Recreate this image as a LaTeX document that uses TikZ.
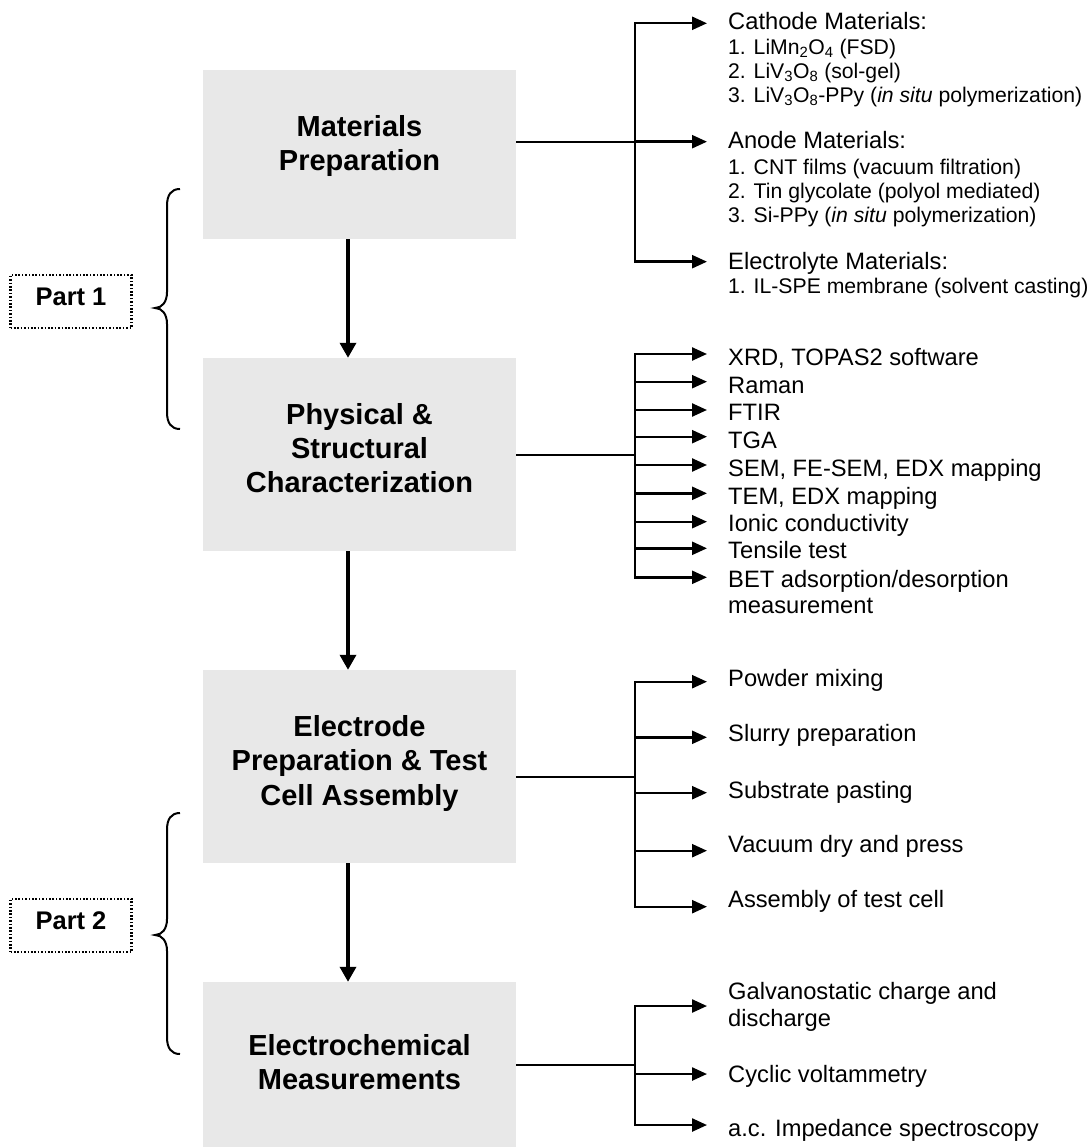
\documentclass[tikz,border=0pt]{standalone}
\usepackage{fontspec}
\setmainfont{Liberation Sans}
\usetikzlibrary{arrows.meta}
\definecolor{boxgray}{RGB}{232,232,232}
\newcommand\hdrfont{\fontsize{23.7}{27.6}\selectfont}
\newcommand\subfont{\fontsize{21.2}{24.2}\selectfont}
\newcommand\boxfont{\fontsize{29}{34.3}\selectfont\bfseries}
\newcommand\partfont{\fontsize{25.5}{30}\selectfont\bfseries}
\begin{document}
\begin{tikzpicture}[x=1pt,y=-1pt,
 stagebox/.style={rectangle, fill=boxgray, draw=none, minimum width=313pt, inner sep=0pt},
 stagelabel/.style={anchor=base, align=center, font=\boxfont, inner sep=0pt},
 itemlabel/.style={anchor=base west, inner xsep=21pt, inner ysep=0pt, font=\hdrfont},
 contline/.style={anchor=base west, inner sep=0pt, font=\hdrfont},
 sublist/.style={anchor=base west, align=left, inner sep=0pt, font=\subfont},
 conn/.style={line width=2.4pt},
 trunk/.style={line width=2.4pt, line cap=rect},
 branch/.style={line width=2.4pt, -{Triangle[length=15pt,width=13pt]}},
 flow/.style={line width=3.4pt, -{Triangle[length=15pt,width=16pt]}},
 partbox/.style={draw, line width=2.2pt, dash pattern=on 1.6pt off 1.8pt, minimum width=121pt, minimum height=53pt, font=\partfont, text height=0.72em, text depth=0pt, inner sep=0pt},
 bracepath/.style={line width=2pt}
]
\useasboundingbox (0,0) rectangle (1088,1147);

% stage boxes
\node[stagebox, minimum height=169pt] (m1) at (359.5,154.5) {};
\node[stagebox, minimum height=193pt] (m2) at (359.5,454.5) {};
\node[stagebox, minimum height=193pt] (m3) at (359.5,766.5) {};
\node[stagebox, minimum height=165pt] (m4) at (359.5,1064.5) {};

% labels (base anchor = last line)
\node[stagelabel] (l1) at (359.5,171) {Materials\\Preparation};
\node[stagelabel] (l2) at (359.5,492.7) {Physical \&\\Structural\\Characterization};
\node[stagelabel] (l3) at (359.5,805) {Electrode\\Preparation \& Test\\Cell Assembly};
\node[stagelabel] (l4) at (359.5,1089.3) {Electrochemical\\Measurements};

% flow arrows
\draw[flow] ([xshift=-11.5pt]m1.south) -- ([xshift=-11.5pt]m2.north);
\draw[flow] ([xshift=-11.5pt]m2.south) -- ([xshift=-11.5pt]m3.north);
\draw[flow] ([xshift=-11.5pt]m3.south) -- ([xshift=-11.5pt]m4.north);

% ---------- group 1
\coordinate (j1) at (635,142);
\coordinate (a11) at (635,23.3);
\coordinate (a12) at (635,141.7);
\coordinate (a13) at (635,261.7);
\node[itemlabel] (h11) at (707,29.3) {Cathode Materials:};
\node[itemlabel] (h12) at (707,149) {Anode Materials:};
\node[itemlabel] (h13) at (707,269.3) {Electrolyte Materials:};
\node[sublist] (s11) at (728,102.7) {1. LiMn\textsubscript{2}O\textsubscript{4} (FSD)\\2. LiV\textsubscript{3}O\textsubscript{8} (sol-gel)\\3. LiV\textsubscript{3}O\textsubscript{8}-PPy (\textit{in situ} polymerization)};
\node[sublist] (s12) at (728,222.7) {1. CNT films (vacuum filtration)\\2. Tin glycolate (polyol mediated)\\3. Si-PPy (\textit{in situ} polymerization)};
\node[sublist] (s13) at (728,293.3) {1. IL-SPE membrane (solvent casting)};
\draw[conn] (m1.east |- j1) -- (j1);
\draw[trunk] (a11) -- (a13);
\foreach \i in {1,2,3} \draw[branch] (a1\i) -- (a1\i -| h1\i.west);

% ---------- group 2
\coordinate (j2) at (635,455);
\foreach \i/\y in {1/354,2/381.7,3/410,4/436.7,5/465,6/493.3,7/521.7,8/548.3,9/577.3}
  \coordinate (a2\i) at (635,\y);
\node[itemlabel] (h21) at (707,365.7) {XRD, TOPAS2 software};
\node[itemlabel] (h22) at (707,393.3) {Raman};
\node[itemlabel] (h23) at (707,420.7) {FTIR};
\node[itemlabel] (h24) at (707,448.3) {TGA};
\node[itemlabel] (h25) at (707,476) {SEM, FE-SEM, EDX mapping};
\node[itemlabel] (h26) at (707,504) {TEM, EDX mapping};
\node[itemlabel] (h27) at (707,531.7) {Ionic conductivity};
\node[itemlabel] (h28) at (707,558.3) {Tensile test};
\node[itemlabel] (h29) at (707,587.3) {BET adsorption/desorption};
\node[contline] (c29) at (728,613.3) {measurement};
\draw[conn] (m2.east |- j2) -- (j2);
\draw[trunk] (a21) -- (a29);
\foreach \i in {1,...,9} \draw[branch] (a2\i) -- (a2\i -| h2\i.west);

% ---------- group 3
\coordinate (j3) at (635,776.7);
\foreach \i/\y in {1/681.7,2/737.3,3/792.7,4/850.7,5/906.7}
  \coordinate (a3\i) at (635,\y);
\node[itemlabel] (h31) at (707,686.7) {Powder mixing};
\node[itemlabel] (h32) at (707,741.7) {Slurry preparation};
\node[itemlabel] (h33) at (707,798) {Substrate pasting};
\node[itemlabel] (h34) at (707,852.7) {Vacuum dry and press};
\node[itemlabel] (h35) at (707,907.3) {Assembly of test cell};
\draw[conn] (m3.east |- j3) -- (j3);
\draw[trunk] (a31) -- (a35);
\foreach \i in {1,...,5} \draw[branch] (a3\i) -- (a3\i -| h3\i.west);

% ---------- group 4
\coordinate (j4) at (635,1065);
\foreach \i/\y in {1/1006,2/1074,3/1125}
  \coordinate (a4\i) at (635,\y);
\node[itemlabel] (h41) at (707,999.3) {Galvanostatic charge and};
\node[contline] (c41) at (728,1026.7) {discharge};
\node[itemlabel] (h42) at (707,1082.7) {Cyclic voltammetry};
\node[itemlabel] (h43) at (707,1136.7) {a.c. Impedance spectroscopy};
\draw[conn] (m4.east |- j4) -- (j4);
\draw[trunk] (a41) -- (a43);
\foreach \i in {1,2,3} \draw[branch] (a4\i) -- (a4\i -| h4\i.west);

% ---------- parts and braces
\node[partbox] (p1) at (71,301.5) {Part 1};
\node[partbox] (p2) at (71,925.5) {Part 2};
\draw[bracepath] (180,189) .. controls (171,189) and (167,195) .. (167,206)
  -- (167,292) .. controls (167,302) and (162,308) .. (155,308)
  .. controls (162,308) and (167,314) .. (167,324)
  -- (167,412) .. controls (167,423) and (171,429) .. (180,429);
\draw[bracepath] (180,813) .. controls (171,813) and (167,819) .. (167,830)
  -- (167,919) .. controls (167,929) and (162,935) .. (155,935)
  .. controls (162,935) and (167,941) .. (167,951)
  -- (167,1037) .. controls (167,1048) and (171,1054) .. (180,1054);
\end{tikzpicture}
\end{document}
